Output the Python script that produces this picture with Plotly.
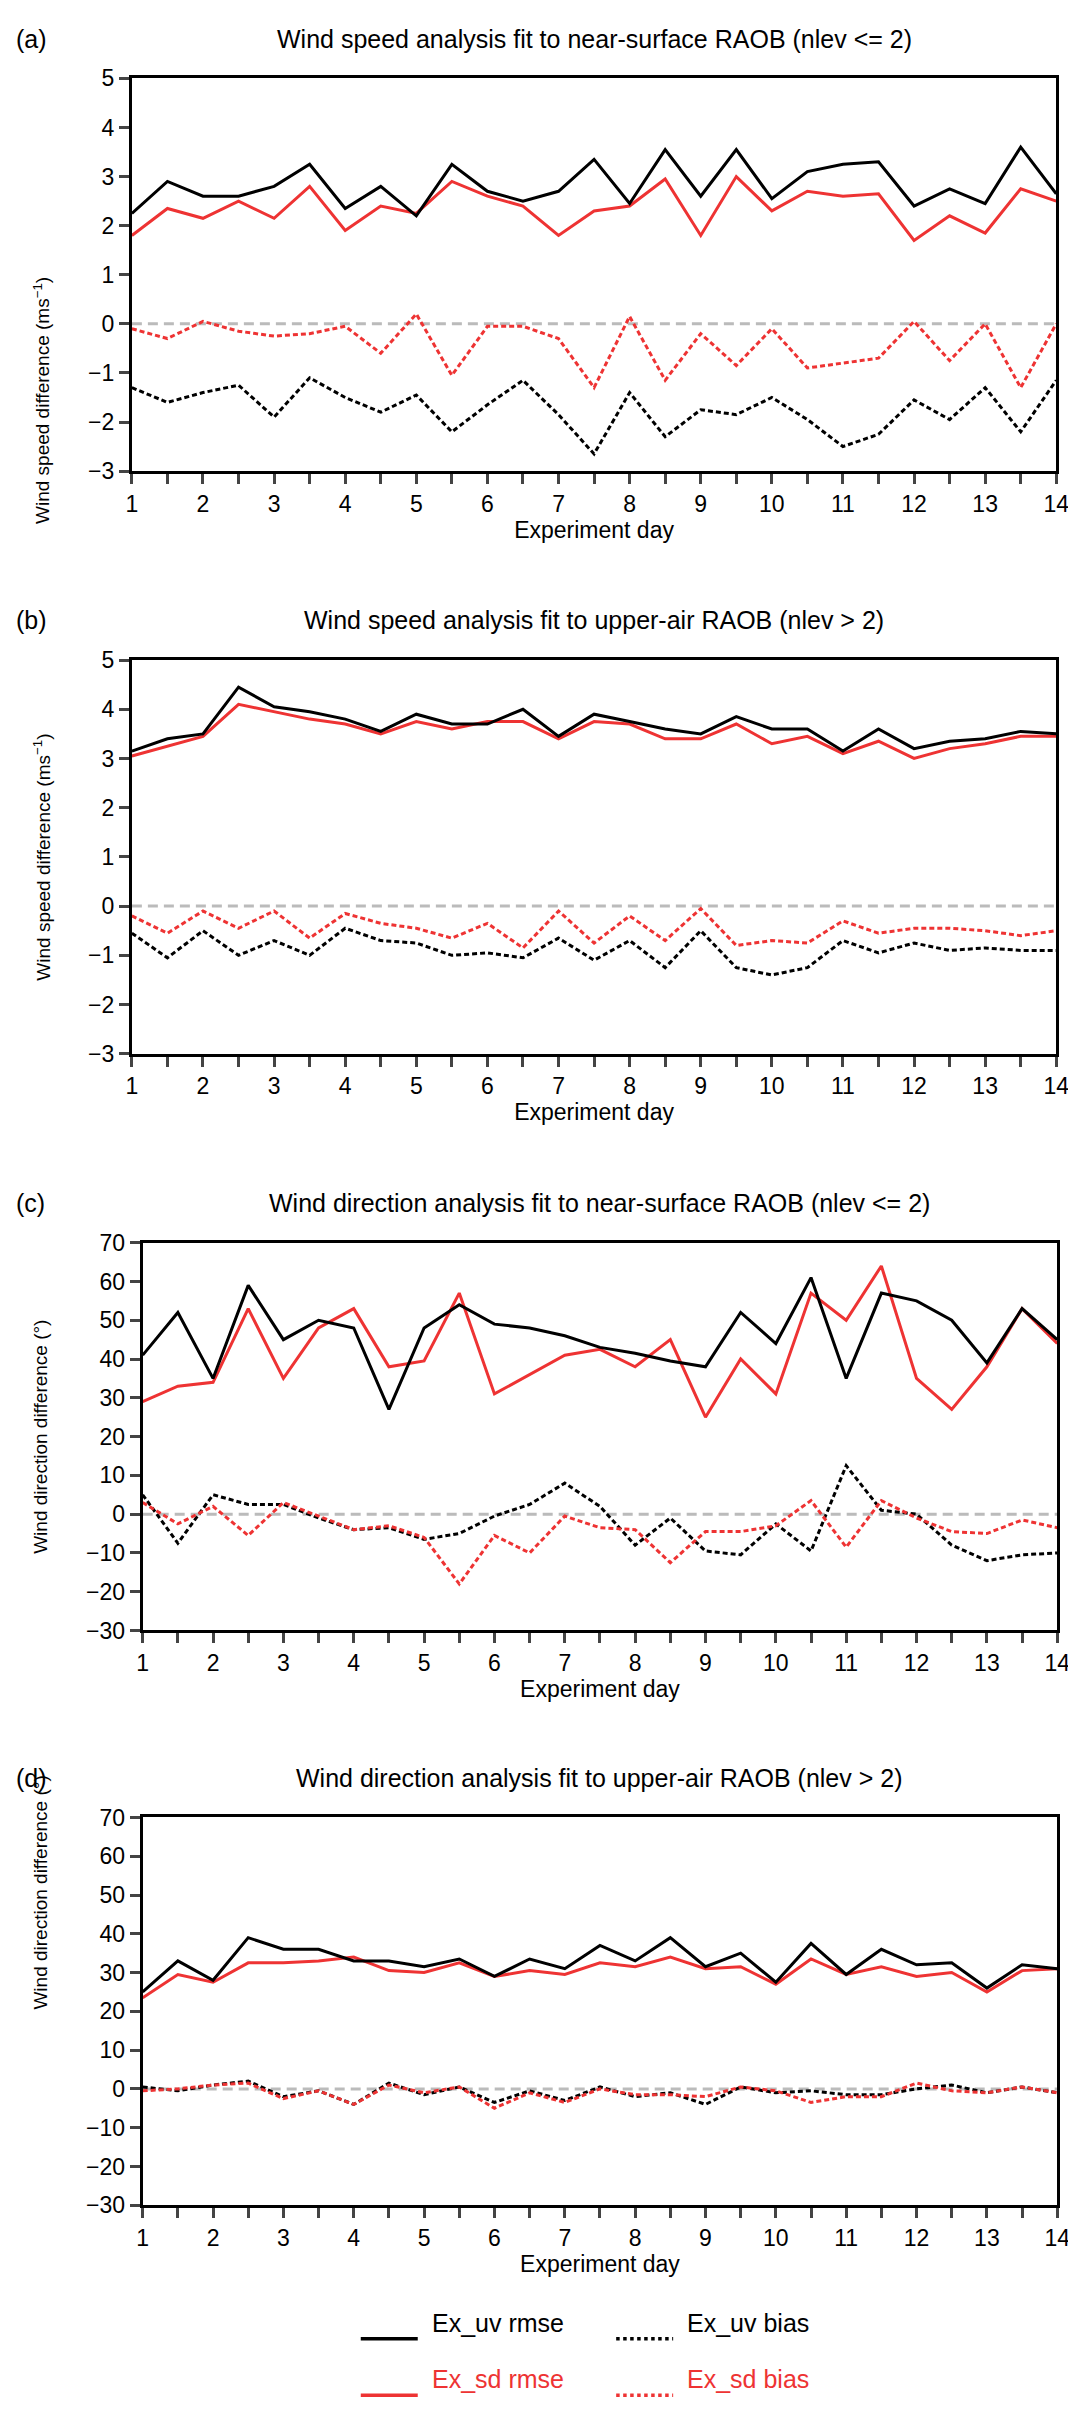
import plotly.graph_objects as go

days = [1 + 0.5 * i for i in range(27)]

a_uv_rmse = [2.25, 2.9, 2.6, 2.6, 2.8, 3.25, 2.35, 2.8, 2.2, 3.25, 2.7, 2.5, 2.7, 3.35, 2.45, 3.55, 2.6, 3.55, 2.55, 3.1, 3.25, 3.3, 2.4, 2.75, 2.45, 3.6, 2.65]
a_sd_rmse = [1.8, 2.35, 2.15, 2.5, 2.15, 2.8, 1.9, 2.4, 2.25, 2.9, 2.6, 2.4, 1.8, 2.3, 2.4, 2.95, 1.8, 3.0, 2.3, 2.7, 2.6, 2.65, 1.7, 2.2, 1.85, 2.75, 2.5]
a_sd_bias = [-0.1, -0.3, 0.05, -0.15, -0.25, -0.2, -0.05, -0.6, 0.2, -1.05, -0.05, -0.05, -0.3, -1.3, 0.15, -1.15, -0.2, -0.85, -0.1, -0.9, -0.8, -0.7, 0.05, -0.75, 0.0, -1.3, 0.0]
a_uv_bias = [-1.3, -1.6, -1.4, -1.25, -1.9, -1.1, -1.5, -1.8, -1.45, -2.2, -1.65, -1.15, -1.85, -2.65, -1.4, -2.3, -1.75, -1.85, -1.5, -1.95, -2.5, -2.25, -1.55, -1.95, -1.3, -2.2, -1.15]

b_uv_rmse = [3.15, 3.4, 3.5, 4.45, 4.05, 3.95, 3.8, 3.55, 3.9, 3.7, 3.7, 4.0, 3.45, 3.9, 3.75, 3.6, 3.5, 3.85, 3.6, 3.6, 3.15, 3.6, 3.2, 3.35, 3.4, 3.55, 3.5]
b_sd_rmse = [3.05, 3.25, 3.45, 4.1, 3.95, 3.8, 3.7, 3.5, 3.75, 3.6, 3.75, 3.75, 3.4, 3.75, 3.7, 3.4, 3.4, 3.7, 3.3, 3.45, 3.1, 3.35, 3.0, 3.2, 3.3, 3.45, 3.45]
b_sd_bias = [-0.2, -0.55, -0.1, -0.45, -0.1, -0.65, -0.15, -0.35, -0.45, -0.65, -0.35, -0.85, -0.1, -0.75, -0.2, -0.7, -0.05, -0.8, -0.7, -0.75, -0.3, -0.55, -0.45, -0.45, -0.5, -0.6, -0.5]
b_uv_bias = [-0.55, -1.05, -0.5, -1.0, -0.7, -1.0, -0.45, -0.7, -0.75, -1.0, -0.95, -1.05, -0.65, -1.1, -0.7, -1.25, -0.5, -1.25, -1.4, -1.25, -0.7, -0.95, -0.75, -0.9, -0.85, -0.9, -0.9]

c_uv_rmse = [41, 52, 35, 59, 45, 50, 48, 27, 48, 54, 49, 48, 46, 43, 41.5, 39.5, 38, 52, 44, 61, 35, 57, 55, 50, 39, 53, 45]
c_sd_rmse = [29, 33, 34, 53, 35, 48, 53, 38, 39.5, 57, 31, 36, 41, 42.5, 38, 45, 25, 40, 31, 57, 50, 64, 35, 27, 38, 53, 44]
c_uv_bias = [5, -7.5, 5, 2.5, 2.5, -1, -4, -3.5, -6.5, -5, -0.5, 2.5, 8, 2, -8, -1, -9.5, -10.5, -2.5, -9.5, 12.5, 1, 0, -8, -12, -10.5, -10]
c_sd_bias = [3, -2.5, 2, -5.5, 3, -0.5, -4, -3, -6, -18, -5.5, -10, -0.5, -3.5, -4, -12.5, -4.5, -4.5, -3, 3.5, -8.5, 3.5, -1, -4.5, -5, -1.5, -3.5]

d_uv_rmse = [25, 33, 28, 39, 36, 36, 33, 33, 31.5, 33.5, 29, 33.5, 31, 37, 33, 39, 31.5, 35, 27.5, 37.5, 29.5, 36, 32, 32.5, 26, 32, 31]
d_sd_rmse = [23.5, 29.5, 27.5, 32.5, 32.5, 33, 34, 30.5, 30, 32.5, 29, 30.5, 29.5, 32.5, 31.5, 34, 31, 31.5, 27, 33.5, 29.5, 31.5, 29, 30, 25, 30.5, 31]
d_uv_bias = [0.5, -0.5, 1, 2, -2, -0.5, -4, 1.5, -1.5, 0.5, -3.5, -0.5, -3, 0.5, -2, -1, -4, 0.5, -1, -0.5, -1.5, -1.5, 0, 1, -1, 0.5, -1]
d_sd_bias = [-0.5, 0, 1, 1.5, -2.5, -0.5, -4, 1, -1, 0.5, -5, -1, -3.5, 0, -1.5, -1.5, -2, 0.5, -0.5, -3.5, -2, -2, 1.5, -0.5, -1, 0.5, -1]

titles = ["Wind speed analysis fit to near-surface RAOB (nlev <= 2)",
          "Wind speed analysis fit to upper-air RAOB (nlev > 2)",
          "Wind direction analysis fit to near-surface RAOB (nlev <= 2)",
          "Wind direction analysis fit to upper-air RAOB (nlev > 2)"]
labels = ["(a)", "(b)", "(c)", "(d)"]
ytitles = ["Wind speed difference (ms<sup>−1</sup>)"] * 2 + ["Wind direction difference (°)"] * 2
yranges = [(-3, 5), (-3, 5), (-30, 70), (-30, 70)]
ydticks = [1, 1, 10, 10]
panels = [(a_uv_rmse, a_sd_rmse, a_uv_bias, a_sd_bias),
          (b_uv_rmse, b_sd_rmse, b_uv_bias, b_sd_bias),
          (c_uv_rmse, c_sd_rmse, c_uv_bias, c_sd_bias),
          (d_uv_rmse, d_sd_rmse, d_uv_bias, d_sd_bias)]

W, H = 1076, 2414
boxes = [(120, 1061, 58, 455), (120, 1061, 646, 1044), (131, 1062, 1235, 1627), (131, 1062, 1816, 2208)]
BLACK, RED, GREY = "#000000", "#ee3333", "#bbbbbb"
FONT = "Liberation Sans Narrow, Liberation Sans, Arial"

fig = go.Figure()
annotations, shapes = [], []
xt = days
xtt = [str(int(d)) if d == int(d) else "" for d in days]
for i, (uvr, sdr, uvb, sdb) in enumerate(panels):
    n = i + 1
    xa, ya = ("x", "y") if n == 1 else (f"x{n}", f"y{n}")
    x0, x1, y0, y1 = boxes[i]
    fig.add_trace(go.Scatter(x=[1, 14], y=[0, 0], mode="lines", xaxis=xa, yaxis=ya,
                             line=dict(color=GREY, width=3, dash="10px,6px"), hoverinfo="skip"))
    for ys, col, dash in [(uvb, BLACK, "5px,3px"), (sdb, RED, "5px,3px"), (sdr, RED, "solid"), (uvr, BLACK, "solid")]:
        fig.add_trace(go.Scatter(x=days, y=ys, mode="lines", xaxis=xa, yaxis=ya,
                                 line=dict(color=col, width=3, dash=dash)))
    lo, hi = yranges[i]
    axfont = dict(family=FONT, size=23, color="black")
    fig.layout[f"xaxis{'' if n == 1 else n}"] = dict(
        domain=[x0 / W, x1 / W], anchor=ya, range=[1, 14], tickvals=xt, ticktext=xtt,
        ticks="outside", ticklen=10, tickwidth=2.5, showline=True, linewidth=3, linecolor="black",
        mirror=True, showgrid=False, zeroline=False, tickfont=axfont,
        title=dict(text="Experiment day", font=axfont, standoff=4))
    fig.layout[f"yaxis{'' if n == 1 else n}"] = dict(
        domain=[1 - y1 / H, 1 - y0 / H], anchor=xa, range=[lo, hi],
        tickvals=list(range(lo, hi + 1, ydticks[i])),
        ticktext=[str(v).replace("-", "−") for v in range(lo, hi + 1, ydticks[i])],
        ticks="outside", ticklen=10, tickwidth=2.5, showline=True, linewidth=3, linecolor="black",
        mirror=True, showgrid=False, zeroline=False, tickfont=axfont)
    annotations.append(dict(text=titles[i], x=(x0 + x1) / 2 / W, y=1 - (y0 - 40) / H, xref="paper", yref="paper",
                            showarrow=False, font=dict(family=FONT, size=25, color="black"), yanchor="middle"))
    annotations.append(dict(text=labels[i], x=0.0, y=1 - (y0 - 40) / H, xref="paper", yref="paper", xanchor="left",
                            showarrow=False, font=dict(family=FONT, size=25, color="black"), yanchor="middle"))
    annotations.append(dict(text=ytitles[i], x=14 / W, y=1 - (y0 + y1) / 2 / H, xref="paper", yref="paper",
                            textangle=-90, showarrow=False, font=dict(family=FONT, size=19, color="black")))

leg = [("Ex_uv rmse", BLACK, "solid", 353, 2343), ("Ex_uv bias", BLACK, "dot", 613, 2343),
       ("Ex_sd rmse", RED, "solid", 353, 2400), ("Ex_sd bias", RED, "dot", 613, 2400)]
for txt, col, dash, lx, ly in leg:
    shapes.append(dict(type="line", xref="paper", yref="paper", x0=lx / W, x1=(lx + 58) / W,
                       y0=1 - ly / H, y1=1 - ly / H, line=dict(color=col, width=3.5, dash=dash)))
    annotations.append(dict(text=txt, x=(lx + 70) / W, y=1 - ly / H, xref="paper", yref="paper", xanchor="left",
                            showarrow=False, font=dict(family=FONT, size=25, color=col)))

fig.update_layout(width=W, height=H, margin=dict(l=0, r=0, t=0, b=0), showlegend=False,
                  plot_bgcolor="white", paper_bgcolor="white", annotations=annotations, shapes=shapes)
fig.write_html("out.html")
